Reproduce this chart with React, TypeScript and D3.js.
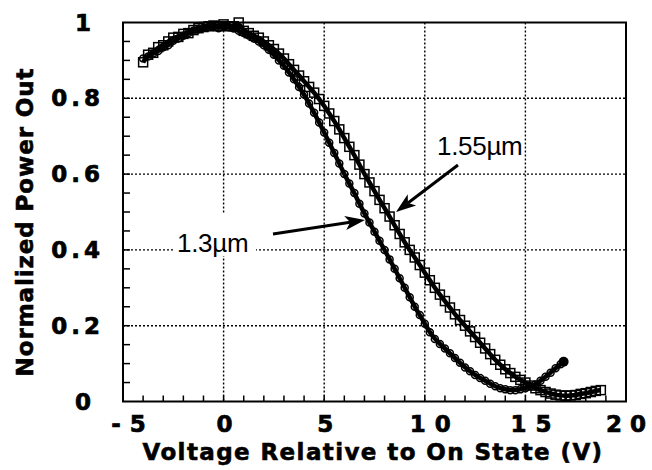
import React from 'react';
import * as d3 from 'd3';

// 1.3 um data (circles)
const volts13 = [
  -4, -3.75, -3.5, -3.25, -3, -2.75, -2.5, -2.25, -2, -1.75, -1.5, -1.25, -1, -0.75, -0.5, -0.25,
  0, 0.25, 0.5, 0.75, 1, 1.25, 1.5, 1.75, 2, 2.25, 2.5, 2.75, 3, 3.25, 3.5, 3.75,
  4, 4.25, 4.5, 4.75, 5, 5.25, 5.5, 5.75, 6, 6.25, 6.5, 6.75, 7, 7.25, 7.5, 7.75,
  8, 8.25, 8.5, 8.75, 9, 9.25, 9.5, 9.75, 10, 10.25, 10.5, 10.75, 11, 11.25, 11.5, 11.75,
  12, 12.25, 12.5, 12.75, 13, 13.25, 13.5, 13.75, 14, 14.25, 14.5, 14.75, 15, 15.25, 15.5, 15.75,
  16, 16.25, 16.5, 16.75, 16.9,
];
const power13 = [
  0.905, 0.91, 0.918, 0.925, 0.935, 0.94, 0.952, 0.958, 0.965, 0.972, 0.978, 0.982, 0.986, 0.988, 0.99, 0.985,
  0.99, 0.988, 0.984, 0.978, 0.972, 0.966, 0.958, 0.95, 0.94, 0.928, 0.915, 0.9, 0.886, 0.868, 0.85, 0.83,
  0.81, 0.786, 0.762, 0.736, 0.71, 0.683, 0.656, 0.628, 0.6, 0.575, 0.55, 0.522, 0.496, 0.472, 0.448, 0.424,
  0.4, 0.375, 0.35, 0.325, 0.3, 0.275, 0.25, 0.228, 0.205, 0.183, 0.165, 0.152, 0.14, 0.127, 0.115, 0.102,
  0.09, 0.08, 0.07, 0.062, 0.055, 0.047, 0.04, 0.035, 0.032, 0.03, 0.03, 0.032, 0.035, 0.04, 0.045, 0.055,
  0.065, 0.076, 0.088, 0.098, 0.105,
];

// 1.55 um data (squares)
const volts155 = [
  -4, -3.75, -3.5, -3.25, -3, -2.75, -2.5, -2.25, -2, -1.75, -1.5, -1.25, -1, -0.75, -0.5, -0.25,
  0, 0.25, 0.5, 0.75, 1, 1.25, 1.5, 1.75, 2, 2.25, 2.5, 2.75, 3, 3.25, 3.5, 3.75,
  4, 4.25, 4.5, 4.75, 5, 5.25, 5.5, 5.75, 6, 6.25, 6.5, 6.75, 7, 7.25, 7.5, 7.75,
  8, 8.25, 8.5, 8.75, 9, 9.25, 9.5, 9.75, 10, 10.25, 10.5, 10.75, 11, 11.25, 11.5, 11.75,
  12, 12.25, 12.5, 12.75, 13, 13.25, 13.5, 13.75, 14, 14.25, 14.5, 14.75, 15, 15.25, 15.5, 15.75,
  16, 16.25, 16.5, 16.75, 17, 17.25, 17.5, 17.75, 18, 18.25, 18.5, 18.75,
];
const power155 = [
  0.895, 0.915, 0.92, 0.935, 0.94, 0.95, 0.96, 0.962, 0.97, 0.972, 0.98, 0.985, 0.988, 0.99, 0.992, 0.99,
  0.995, 0.99, 0.99, 1.0, 0.978, 0.972, 0.965, 0.96, 0.95, 0.94, 0.93, 0.918, 0.905, 0.89, 0.875, 0.86,
  0.845, 0.83, 0.815, 0.798, 0.78, 0.76, 0.74, 0.718, 0.695, 0.672, 0.65, 0.625, 0.6, 0.578, 0.555, 0.532,
  0.51, 0.488, 0.465, 0.442, 0.42, 0.4, 0.38, 0.36, 0.34, 0.32, 0.3, 0.282, 0.265, 0.248, 0.23, 0.215,
  0.2, 0.185, 0.17, 0.155, 0.14, 0.125, 0.11, 0.097, 0.085, 0.075, 0.065, 0.057, 0.05, 0.042, 0.035, 0.03,
  0.025, 0.021, 0.018, 0.016, 0.015, 0.016, 0.017, 0.02, 0.022, 0.025, 0.028, 0.03,
];

const xTicks = [-5, 0, 5, 10, 15, 20];
const xTickLabels = ['-5', '0', '5', '10', '15', '20'];
const yTicks = [0, 0.2, 0.4, 0.6, 0.8, 1];
const yTickLabels = ['0', '0.2', '0.4', '0.6', '0.8', '1'];

const W = 652;
const H = 470;
const margin = { top: 22.5, right: 26, bottom: 68.5, left: 123 };

export default function App() {
  const x = d3.scaleLinear().domain([-5, 20]).range([margin.left, W - margin.right]);
  const y = d3.scaleLinear().domain([0, 1]).range([H - margin.bottom, margin.top]);

  const s13 = volts13.map((v, i) => [v, power13[i]] as [number, number]);
  const s155 = volts155.map((v, i) => [v, power155[i]] as [number, number]);

  const line = d3.line<[number, number]>()
    .x(d => x(d[0]))
    .y(d => y(d[1]))
    .curve(d3.curveBasis);

  const x0 = x(-5), x1 = x(20), y0 = y(0), y1 = y(1);
  const minorX = d3.range(-4, 20, 1);
  const minorY = d3.range(0.05, 1, 0.05);

  const font = '"Liberation Sans", Arial, Helvetica, sans-serif';
  const boldFont = '"DejaVu Sans", "Liberation Sans", Arial, sans-serif';
  const tickLS = 4;
  const xLS = 9;

  const arrow = (tx: number, ty: number, hx: number, hy: number) => {
    const ang = Math.atan2(hy - ty, hx - tx);
    const len = 20, half = 7;
    const bx = hx - len * Math.cos(ang), by = hy - len * Math.sin(ang);
    const px = -Math.sin(ang) * half, py = Math.cos(ang) * half;
    const nx = hx - (len - 5) * Math.cos(ang), ny = hy - (len - 5) * Math.sin(ang);
    return (
      <g>
        <line x1={tx} y1={ty} x2={nx} y2={ny} stroke="#000" strokeWidth={3} />
        <path d={`M${hx},${hy}L${bx + px},${by + py}L${nx},${ny}L${bx - px},${by - py}Z`} fill="#000" />
      </g>
    );
  };

  return (
    <svg width={W} height={H} style={{ position: 'absolute', left: 0, top: 0, background: '#fff' }}>
      <rect width={W} height={H} fill="#fff" />

      {/* grid */}
      <g stroke="#000" strokeWidth={1.4} strokeDasharray="2,2">
        {[0, 5, 10, 15].map(v => (
          <line key={'gx' + v} x1={x(v)} x2={x(v)} y1={y1} y2={y0} />
        ))}
        {[0.2, 0.4, 0.6, 0.8].map(v => (
          <line key={'gy' + v} x1={x0} x2={x1} y1={y(v)} y2={y(v)} />
        ))}
      </g>

      {/* minor ticks */}
      <g stroke="#000" strokeWidth={1.5}>
        {minorX.map(v => (
          <line key={'mx' + v} x1={x(v)} x2={x(v)} y1={y0} y2={y0 - 6} />
        ))}
        {minorY.map(v => (
          <line key={'my' + v} x1={x0} x2={x0 + 7} y1={y(v)} y2={y(v)} />
        ))}
      </g>

      {/* frame */}
      <rect x={x0} y={y1} width={x1 - x0} height={y0 - y1} fill="none" stroke="#000" strokeWidth={2} />

      {/* 1.3 um label box (covers grid) */}
      <rect x={175} y={213} width={81} height={43} fill="#fff" />

      {/* fitted lines */}
      <path d={line(s13) || ''} fill="none" stroke="#000" strokeWidth={4.5} />
      <path d={line(s155) || ''} fill="none" stroke="#000" strokeWidth={4.5} />

      {/* markers */}
      <g fill="none" stroke="#000" strokeWidth={1.5}>
        {s13.map((d, i) => (
          <circle key={'c' + i} cx={x(d[0])} cy={y(d[1])} r={3.5} />
        ))}
        {s155.map((d, i) => (
          <rect key={'s' + i} x={x(d[0]) - 4.5} y={y(d[1]) - 4.5} width={9} height={9} />
        ))}
      </g>
      <circle cx={x(16.9)} cy={y(0.105)} r={5} fill="#000" />

      {/* tick labels */}
      <g fontFamily={boldFont} fontWeight="bold" fontSize={23} fill="#000" stroke="#000" strokeWidth={0.7}>
        {xTicks.map((v, i) => (
          <text key={'xl' + v} x={x(v) + (i === 5 ? 4 : i === 0 || i >= 3 ? 10 : 1)} y={432} textAnchor="middle"
            letterSpacing={xTickLabels[i].length > 1 ? (i === 5 ? 8 : xLS) : 0}>
            {xTickLabels[i]}
          </text>
        ))}
        {yTicks.map((v, i) => (
          <text key={'yl' + v} x={(yTickLabels[i].length > 1 ? 99 : 90) + tickLS + 1} y={y(v) + 8} textAnchor="end"
            letterSpacing={tickLS}>
            {yTickLabels[i]}
          </text>
        ))}
      </g>

      {/* axis titles */}
      <text x={373} y={460} textAnchor="middle" fontFamily={boldFont} fontWeight="bold" fontSize={23}
        letterSpacing={1.4} stroke="#000" strokeWidth={0.6}>
        Voltage Relative to On State (V)
      </text>
      <text
        transform="translate(33,222) rotate(-90)"
        textAnchor="middle"
        fontFamily={boldFont}
        fontWeight="bold"
        fontSize={23}
        letterSpacing={0.9}
        stroke="#000"
        strokeWidth={0.6}
      >
        Normalized Power Out
      </text>

      {/* annotations */}
      <text x={437} y={155} fontFamily={font} fontSize={26} letterSpacing={-0.3}>1.55µm</text>
      <text x={177} y={252} fontFamily={font} fontSize={26} letterSpacing={-0.3}>1.3µm</text>
      {arrow(458, 165, 396, 212)}
      {arrow(273, 234, 365, 220)}
    </svg>
  );
}
